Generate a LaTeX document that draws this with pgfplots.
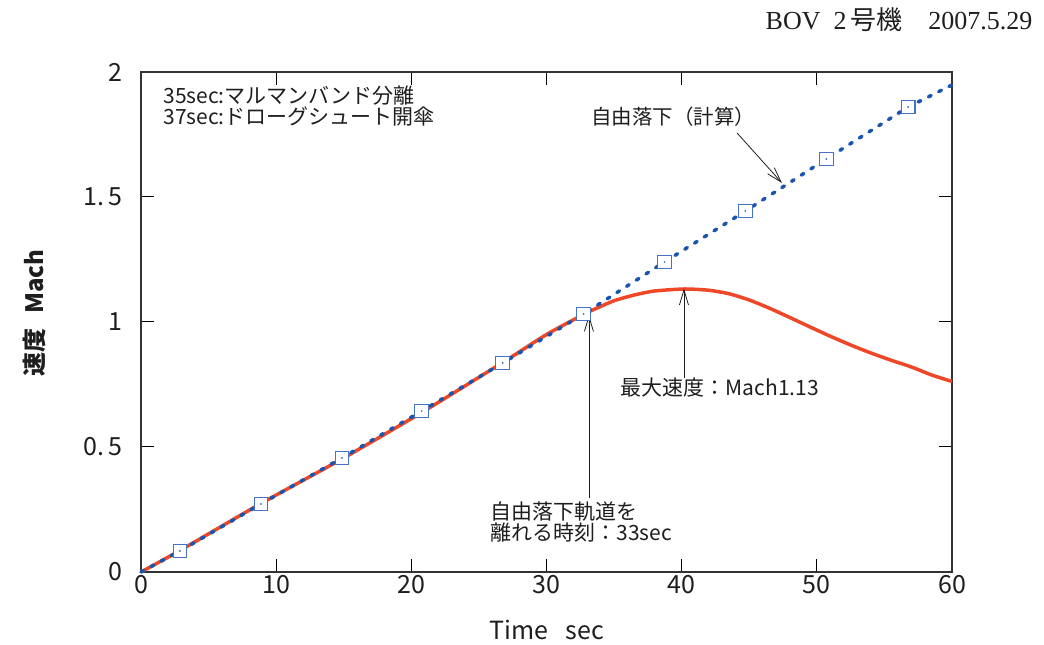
\documentclass[border=0pt]{standalone}
\usepackage{fontspec}
\usepackage{pgfplots}
\pgfplotsset{compat=1.18}
\usetikzlibrary{calc,arrows.meta}
\setmainfont{Noto Sans CJK JP}
\newfontfamily\serif{Liberation Serif}
\newfontfamily\jp{Noto Sans CJK JP}
\definecolor{redc}{RGB}{238,72,40}
\definecolor{bluec}{RGB}{25,85,175}
\definecolor{markc}{RGB}{70,115,200}
\definecolor{txt}{RGB}{30,30,30}

\pgfplotstableread{
x y
0 0
2.88 0.084
8.87 0.272
14.86 0.456
20.77 0.644
26.76 0.836
32.74 1.032
38.73 1.240
44.72 1.444
50.70 1.652
56.76 1.860
60 1.948
}\freefall

\pgfplotstableread{
x y
2.88 0.084
8.87 0.272
14.86 0.456
20.77 0.644
26.76 0.836
32.74 1.032
38.73 1.240
44.72 1.444
50.70 1.652
56.76 1.860
}\markers

\pgfplotstableread{
x y
0 0
2.88 0.086
8.87 0.274
14.86 0.452
20.77 0.638
26.76 0.838
30 0.950
32.74 1.030
33.5 1.050
35 1.085
36.5 1.108
38 1.124
40.2 1.132
42 1.127
43.5 1.113
45 1.088
46.5 1.055
48 1.018
49.5 0.980
51 0.943
52.5 0.908
54 0.876
55.5 0.847
57 0.820
58.5 0.788
60 0.762
}\actual

\begin{document}
\begin{tikzpicture}[arr/.style={line width=0.8pt, txt, -{Straight Barb[length=15pt,width=9pt]}}]
\begin{axis}[
  scale only axis, width=811pt, height=500pt,
  xmin=0, xmax=60, ymin=0, ymax=2,
  xtick={0,10,20,30,40,50,60},
  ytick={0,0.5,1,1.5,2},
  xticklabels={0,10,20,30,40,50,60},
  yticklabels={0,{0.\hspace{4pt}5},1,{1.\hspace{4pt}5},2},
  /pgf/number format/assume math mode=true,
  tick align=inside, major tick length=13pt,
  tick style={black, line width=1pt},
  xtick pos=both, ytick pos=both,
  xticklabel pos=bottom, yticklabel pos=left,
  xticklabel style={font=\fontsize{25}{25}\selectfont, text=txt},
  yticklabel style={font=\fontsize{25}{25}\selectfont, text=txt, xshift=-15pt},
  axis line style={black!80, line width=1.3pt},
  xlabel={Time\hspace{0.7em}sec},
  ylabel={\bfseries 速度\hspace{0.6em}Mach},
  xlabel style={at={(axis description cs:0.5,-0.116)}, anchor=center, font=\fontsize{25}{25}\selectfont, text=txt},
  ylabel style={at={(axis description cs:-0.131,0.518)}, anchor=center, font=\fontsize{24}{24}\selectfont, text=txt},
  clip=false,
]
\addplot[redc, line width=3.5pt, smooth, tension=0.4] table[x=x,y=y] {\actual};
\addplot[bluec, line width=3.5pt, line cap=round, dash pattern=on 3pt off 8.5pt] table[x=x,y=y] {\freefall};
\addplot[only marks, mark=square*, mark size=6.8pt, mark options={draw=markc, fill=white, line width=1.1pt}] table[x=x,y=y] {\markers};
\addplot[only marks, mark=*, mark size=0.7pt, markc] table[x=x,y=y] {\markers};

\node[anchor=west, align=left, font=\fontsize{21}{21.5}\selectfont, text=txt] at (axis cs:1.4,1.864) {35sec:マルマンバンド分離\\37sec:ドローグシュート開傘};
\node[font=\fontsize{20.5}{21}\selectfont, text=txt] at (axis cs:39.36,1.82) {自由落下（計算）};
\draw[arr] (axis cs:44.1,1.756) -- (axis cs:47.42,1.556);
\draw[arr] (axis cs:40.17,0.776) -- (axis cs:40.17,1.134);
\node[font=\fontsize{21}{21}\selectfont, text=txt] at (axis cs:42.83,0.736) {最大速度：Mach1.13};
\draw[arr] (axis cs:33.14,0.296) -- (axis cs:33.14,1.028);
\node[anchor=west, align=left, font=\fontsize{21}{21}\selectfont, text=txt] at (axis cs:25.6,0.198) {自由落下軌道を\\離れる時刻：33sec};
\end{axis}
\node[anchor=base east, font=\fontsize{26}{26}\selectfont\serif, text=txt] at ($(current axis.north east)+(84pt,42pt)$) {BOV\hspace{0.5em}2\hspace{0.15em}{\jp 号機}\hspace{1em}2007.5.29};
\path[use as bounding box] ($(current axis.south west)+(-141pt,-72pt)$) rectangle ($(current axis.north east)+(92pt,72pt)$);
\end{tikzpicture}
\end{document}
